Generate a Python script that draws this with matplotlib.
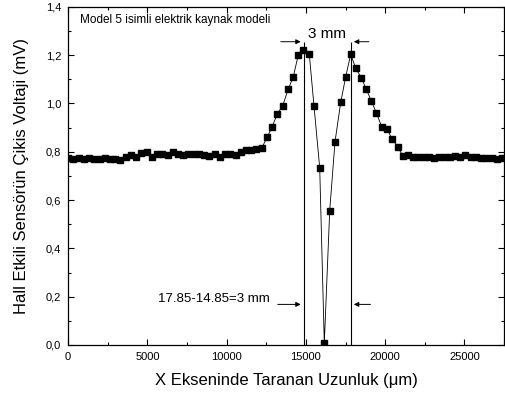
import matplotlib.pyplot as plt
from matplotlib.ticker import MultipleLocator, FuncFormatter

plt.rcParams['font.family'] = ['Liberation Sans', 'DejaVu Sans']

# tarama konumu (um) ve Hall sensör çikis voltaji (mV)
x_sol = [0, 330, 660, 990, 1320, 1650, 1980, 2310, 2640, 2970, 3300, 3630,
         3960, 4290, 4620, 4950, 5280, 5610, 5940, 6270, 6600, 6930, 7260,
         7590, 7920, 8250, 8580, 8910, 9240, 9570, 9900, 10230, 10560, 10890,
         11220, 11550, 11880]
y_sol = [0.775, 0.770, 0.775, 0.770, 0.772, 0.768, 0.770, 0.775, 0.768, 0.770,
         0.765, 0.780, 0.785, 0.780, 0.795, 0.800, 0.778, 0.790, 0.792, 0.788,
         0.800, 0.790, 0.785, 0.790, 0.792, 0.790, 0.788, 0.782, 0.790, 0.780,
         0.790, 0.792, 0.785, 0.800, 0.808, 0.808, 0.810]

x_tepe = [12210, 12544, 12860, 13194, 13535, 13889, 14205, 14520, 14836, 15215,
          15511, 15871, 16162, 16503, 16837, 17197, 17513, 17828, 18144, 18497,
          18813, 19129, 19444, 19785, 20120, 20455, 20795, 21111]
y_tepe = [0.814, 0.859, 0.901, 0.956, 0.990, 1.059, 1.110, 1.200, 1.221, 1.203,
          0.989, 0.734, 0.007, 0.556, 0.841, 1.004, 1.110, 1.203, 1.145, 1.106,
          1.058, 1.010, 0.961, 0.903, 0.893, 0.851, 0.821, 0.782]

x_sag = [21440, 21770, 22100, 22430, 22760, 23090, 23420, 23750, 24080, 24410,
         24740, 25070, 25400, 25730, 26060, 26390, 26720, 27050, 27380]
y_sag = [0.785, 0.780, 0.780, 0.778, 0.780, 0.775, 0.778, 0.780, 0.776, 0.782,
         0.780, 0.785, 0.778, 0.776, 0.775, 0.772, 0.775, 0.770, 0.772]

x = x_sol + x_tepe + x_sag
y = y_sol + y_tepe + y_sag

# kaynak genisligi sinirlari
sinir_sol = 14850
sinir_sag = 17850

fig = plt.figure(figsize=(5.05, 4.0), dpi=100)
ax = fig.add_axes([0.135, 0.1375, 0.863, 0.8458])

ax.plot(x, y, color='black', lw=0.6, marker='s', ms=4.4, mfc='black', mec='black')

ax.vlines([sinir_sol, sinir_sag], 0, 1.255, color='black', lw=0.8)
ok = dict(arrowstyle='-|>', color='black', lw=0.7, mutation_scale=7)
ax.annotate('', xy=(sinir_sol, 1.255), xytext=(13240, 1.255), arrowprops=ok)
ax.annotate('', xy=(sinir_sag, 1.255), xytext=(19150, 1.255), arrowprops=ok)
ax.annotate('', xy=(sinir_sol, 0.168), xytext=(13050, 0.168), arrowprops=ok)
ax.annotate('', xy=(sinir_sag, 0.168), xytext=(19250, 0.168), arrowprops=ok)

ax.text(16350, 1.285, '3 mm', ha='center', va='center', fontsize=11)
ax.text(12700, 0.19, '17.85-14.85=3 mm', ha='right', va='center', fontsize=9.5)
ax.text(750, 1.345, 'Model 5 isimli elektrik kaynak modeli', ha='left', va='center', fontsize=8.5)

ax.set_xlim(0, 27500)
ax.set_ylim(0, 1.4)
ax.xaxis.set_major_locator(MultipleLocator(5000))
ax.xaxis.set_minor_locator(MultipleLocator(2500))
ax.yaxis.set_major_locator(MultipleLocator(0.2))
ax.yaxis.set_minor_locator(MultipleLocator(0.1))
ax.yaxis.set_major_formatter(FuncFormatter(lambda v, p: f'{v:.1f}'.replace('.', ',')))
ax.tick_params(which='both', direction='in', top=True, right=True, labelsize=8, width=0.8, pad=5)
ax.tick_params(which='major', length=4)
ax.tick_params(which='minor', length=2.5)
for s in ax.spines.values():
    s.set_linewidth(0.9)

ax.set_xlabel('X Ekseninde Taranan Uzunluk (\u03bcm)', fontsize=12, labelpad=8)
ax.set_ylabel('Hall Etkili Sensörün Çikis Voltaji (mV)', fontsize=12, labelpad=12)

fig.savefig('out.png', dpi=100)
